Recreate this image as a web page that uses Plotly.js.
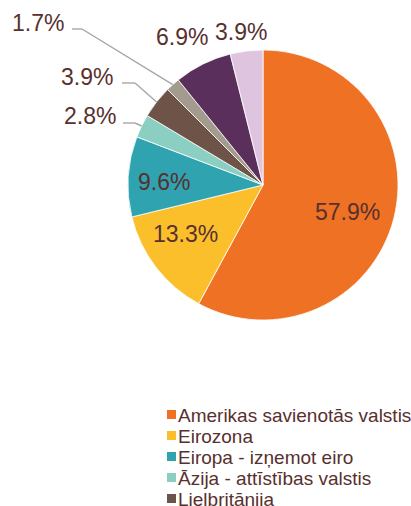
<!DOCTYPE html>
<html>
<head>
<meta charset="utf-8">
<script src="https://cdn.plot.ly/plotly-3.0.1.min.js"></script>
<style>html,body{margin:0;padding:0;background:#fff;}#chart{width:411px;height:506px;}</style>
</head>
<body>
<div id="chart"></div>
<script>
// ---- data ----
const categories = [
  "Amerikas savienotās valstis",
  "Eirozona",
  "Eiropa - izņemot eiro",
  "Āzija - attīstības valstis",
  "Lielbritānija",
  "Japāna",
  "Citas valstis",
  "Starptautiskās institūcijas"
];
const shares = [57.9, 13.3, 9.6, 2.8, 3.9, 1.7, 6.9, 3.9];
const colors = ["#EE7124", "#FBBF2C", "#2FA3AF", "#8BCFC3", "#6E5448", "#A39B8E", "#5A2F5B", "#DFC4DF"];

// ---- layout helpers ----
const W = 411, H = 506;
const CX = 263, CY = 185, R = 135;
const TXT = "#58302E";
const FONT = "Liberation Sans, Arial, sans-serif";
const px = x => x / W;
const py = y => 1 - y / H;

const total = shares.reduce((a, b) => a + b, 0);
function midAngle(i) {
  let c = 0;
  for (let k = 0; k < i; k++) c += shares[k];
  c += shares[i] / 2;
  return c / total * 2 * Math.PI;
}
function edgePoint(i) {
  const a = midAngle(i);
  return [CX + R * Math.sin(a), CY - R * Math.cos(a)];
}

// label placement (pixel centres) per slice index
const labelPos = [
  [347, 212], [185, 234], [164, 182], [90, 116],
  [87, 77], [38, 23], [182, 37], [241, 32]
];
// leader lines: slice index, start, elbow (end = slice edge from data)
const leaders = [
  {i: 3, start: [123, 123], elbow: [135, 123]},
  {i: 4, start: [122, 83], elbow: [135, 83]},
  {i: 5, start: [72, 29], elbow: [82, 29]}
];

const annotations = [];
const shapes = [];

shares.forEach((v, i) => {
  annotations.push({
    xref: "paper", yref: "paper",
    x: px(labelPos[i][0]), y: py(labelPos[i][1]),
    xanchor: "center", yanchor: "middle",
    text: v.toFixed(1) + "%",
    showarrow: false,
    font: {family: FONT, size: 23, color: TXT}
  });
});

leaders.forEach(L => {
  const e = edgePoint(L.i);
  const line = {color: "#A6A6A6", width: 1.4};
  shapes.push({type: "line", xref: "paper", yref: "paper",
    x0: px(L.start[0]), y0: py(L.start[1]), x1: px(L.elbow[0]), y1: py(L.elbow[1]), line: line});
  shapes.push({type: "line", xref: "paper", yref: "paper",
    x0: px(L.elbow[0]), y0: py(L.elbow[1]), x1: px(e[0]), y1: py(e[1]), line: line});
});

// manual legend (the source crops it at the bottom edge of the image)
const LEG_X = 167, LEG_Y = 410, LEG_STEP = 21, SQ = 9;
categories.forEach((c, i) => {
  const top = LEG_Y + i * LEG_STEP;
  if (top > H) return; // rows fully below the image are not visible in the source
  shapes.push({type: "rect", xref: "paper", yref: "paper",
    x0: px(LEG_X), x1: px(LEG_X + SQ), y0: py(top), y1: py(top + SQ),
    fillcolor: colors[i], line: {width: 0}});
  annotations.push({
    xref: "paper", yref: "paper",
    x: px(LEG_X + SQ), y: py(top + SQ / 2 + 1),
    xanchor: "left", yanchor: "middle",
    text: c, showarrow: false,
    font: {family: FONT, size: 19, color: TXT}
  });
});

const trace = {
  type: "pie",
  labels: categories,
  values: shares,
  sort: false,
  direction: "clockwise",
  rotation: 0,
  textinfo: "none",
  marker: {colors: colors, line: {color: "#FFFFFF", width: 0.8}},
  domain: {x: [px(CX - R), px(CX + R)], y: [py(CY + R), py(CY - R)]},
  showlegend: false,
  hoverinfo: "label+percent"
};

const layout = {
  width: W, height: H,
  margin: {l: 0, r: 0, t: 0, b: 0},
  paper_bgcolor: "#FFFFFF",
  showlegend: false,
  annotations: annotations,
  shapes: shapes
};

Plotly.newPlot("chart", [trace], layout, {displayModeBar: false, staticPlot: true});
</script>
</body>
</html>
